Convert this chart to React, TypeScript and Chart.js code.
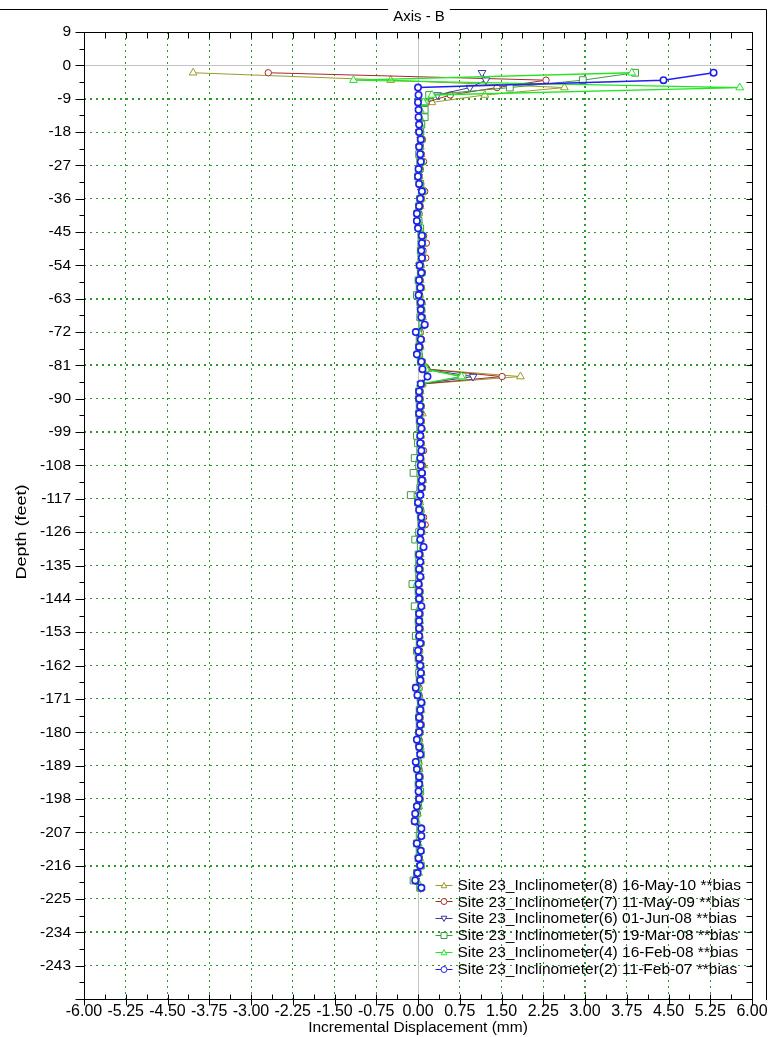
import { useEffect, useRef } from 'react';
import { Chart, registerables } from 'chart.js';
Chart.register(...registerables);

// Depth (feet) of each reading
const DEPTHS = [
  -2, -4, -6, -8, -10, -12, -14, -16, -18, -20,
  -22, -24, -26, -28, -30, -32, -34, -36, -38, -40,
  -42, -44, -46, -48, -50, -52, -54, -56, -58, -60,
  -62, -64, -66, -68, -70, -72, -74, -76, -78, -80,
  -82, -84, -86, -88, -90, -92, -94, -96, -98, -100,
  -102, -104, -106, -108, -110, -112, -114, -116, -118, -120,
  -122, -124, -126, -128, -130, -132, -134, -136, -138, -140,
  -142, -144, -146, -148, -150, -152, -154, -156, -158, -160,
  -162, -164, -166, -168, -170, -172, -174, -176, -178, -180,
  -182, -184, -186, -188, -190, -192, -194, -196, -198, -200,
  -202, -204, -206, -208, -210, -212, -214, -216, -218, -220,
  -222,
];

// Incremental displacement (mm) per series
const INC8_16MAY10 = [
  -4.04, -0.49, 2.63, 1.2, 0.25, 0.08, 0.05, 0.05, 0.04, 0.07,
  0.04, 0.05, 0.08, 0.03, 0.02, 0.04, 0.1, 0.06, 0.04, 0.01,
  0.01, 0.03, 0.09, 0.1, 0.08, 0.1, 0.05, 0.07, 0.04, 0.06,
  0.03, 0.07, 0.06, 0.08, 0.11, 0.03, 0.06, 0.04, 0.02, 0.08,
  0.18, 1.84, 0.08, 0.04, 0.03, 0.05, 0.08, 0.05, 0.07, 0.05,
  0.05, 0.08, 0.05, 0.1, 0.07, 0.08, 0.07, 0.04, 0.03, 0.05,
  0.08, 0.1, 0.06, 0.05, 0.09, 0.04, 0.05, 0.03, 0.05, 0.02,
  0.03, 0.04, 0.06, 0.03, 0.03, 0.04, 0.03, 0.05, 0.02, 0.03,
  0.05, 0.06, 0.05, 0.01, 0.02, 0.06, 0.05, 0.03, 0.05, 0.03,
  0.02, 0.04, 0.05, 0.01, 0.02, 0.03, 0.03, 0.03, 0.03, 0.01,
  -0.01, -0.03, 0.06, 0.05, 0.0, 0.05, 0.03, 0.05, 0.01, -0.02,
  0.06,
];
const INC7_11MAY09 = [
  -2.69, 2.3, 1.42, 0.58, 0.15, 0.06, 0.04, 0.05, 0.05, 0.08,
  0.04, 0.06, 0.1, 0.04, 0.02, 0.05, 0.12, 0.06, 0.04, 0.02,
  0.01, 0.03, 0.1, 0.15, 0.09, 0.14, 0.05, 0.08, 0.04, 0.06,
  0.03, 0.07, 0.07, 0.08, 0.12, 0.04, 0.06, 0.04, 0.02, 0.08,
  0.16, 1.51, 0.07, 0.04, 0.04, 0.06, 0.05, 0.06, 0.07, 0.05,
  0.06, 0.1, 0.05, 0.08, 0.08, 0.09, 0.08, 0.05, 0.03, 0.05,
  0.1, 0.13, 0.07, 0.05, 0.1, 0.04, 0.05, 0.04, 0.05, 0.02,
  0.04, 0.04, 0.06, 0.04, 0.03, 0.04, 0.03, 0.06, 0.03, 0.04,
  0.05, 0.06, 0.05, 0.02, 0.02, 0.07, 0.05, 0.04, 0.06, 0.04,
  0.02, 0.04, 0.05, 0.01, 0.02, 0.04, 0.03, 0.03, 0.04, 0.01,
  -0.01, -0.04, 0.05, 0.04, -0.03, 0.04, 0.02, 0.03, -0.02, -0.04,
  0.04,
];
const INC6_01JUN08 = [
  1.15, 1.22, 0.93, 0.35, 0.08, 0.03, 0.02, 0.03, 0.02, 0.05,
  0.03, 0.04, 0.05, 0.02, 0.01, 0.03, 0.06, 0.04, 0.02, -0.01,
  -0.01, 0.01, 0.07, 0.07, 0.06, 0.07, 0.03, 0.06, 0.02, 0.04,
  0.01, 0.05, 0.05, 0.06, 0.11, -0.02, 0.04, 0.02, -0.01, 0.06,
  0.12, 0.99, 0.05, 0.02, 0.02, 0.04, 0.02, 0.04, 0.05, 0.03,
  0.04, 0.06, 0.03, 0.05, 0.05, 0.07, 0.06, 0.02, 0.01, 0.03,
  0.06, 0.07, 0.05, 0.03, 0.08, 0.02, 0.04, 0.02, 0.04, -0.01,
  0.02, 0.02, 0.04, 0.02, 0.02, 0.02, 0.01, 0.04, 0.0, 0.02,
  0.04, 0.04, 0.04, -0.02, 0.0, 0.05, 0.04, 0.02, 0.04, 0.02,
  -0.01, 0.02, 0.04, -0.02, -0.01, 0.02, 0.02, 0.02, 0.02, -0.01,
  -0.04, -0.05, 0.05, 0.05, -0.01, 0.04, 0.01, 0.04, -0.01, -0.04,
  0.05,
];
const INC5_19MAR08 = [
  3.9, 2.96, 1.65, 0.2, 0.12, 0.12, 0.12, 0.06, 0.04, 0.05,
  0.03, 0.02, 0.04, 0.02, 0.0, 0.04, 0.08, 0.04, 0.02, -0.01,
  0.01, 0.04, 0.06, 0.06, 0.05, 0.06, 0.03, 0.05, 0.01, 0.03,
  -0.02, 0.04, 0.05, 0.04, 0.08, 0.0, 0.03, 0.02, 0.01, 0.05,
  0.12, 0.8, 0.06, 0.02, 0.02, 0.03, 0.02, 0.03, 0.04, -0.02,
  0.0, 0.04, -0.06, 0.02, -0.08, 0.05, 0.04, -0.13, 0.0, 0.03,
  0.05, 0.06, 0.02, -0.05, 0.05, 0.01, 0.02, 0.01, 0.02, -0.1,
  0.01, 0.02, -0.06, 0.02, 0.01, 0.02, -0.04, 0.03, -0.02, 0.01,
  0.03, 0.02, 0.03, -0.03, 0.0, 0.05, 0.03, 0.02, 0.03, 0.02,
  0.0, 0.03, 0.05, -0.01, 0.0, 0.02, 0.01, 0.04, 0.02, 0.0,
  -0.03, -0.05, 0.04, 0.03, -0.02, 0.03, 0.01, 0.05, -0.02, -0.08,
  0.04,
];
const INC4_16FEB08 = [
  3.84, -1.16, 5.78, 0.25, 0.1, 0.04, 0.03, 0.04, 0.03, 0.06,
  0.04, 0.05, 0.07, 0.03, 0.01, 0.03, 0.07, 0.05, 0.03, 0.0,
  0.0, 0.03, 0.08, 0.08, 0.07, 0.08, 0.04, 0.07, 0.03, 0.05,
  0.02, 0.06, 0.06, 0.07, 0.1, 0.01, 0.05, 0.03, 0.01, 0.07,
  0.14, 0.78, 0.04, 0.03, 0.03, 0.05, 0.03, 0.05, 0.06, 0.04,
  0.05, 0.07, 0.03, 0.06, 0.06, 0.08, 0.07, 0.02, 0.02, 0.04,
  0.07, 0.08, 0.06, 0.03, 0.09, 0.03, 0.04, 0.03, 0.04, -0.02,
  0.03, 0.03, 0.04, 0.03, 0.03, 0.03, 0.02, 0.05, 0.02, 0.03,
  0.05, 0.05, 0.04, 0.0, 0.01, 0.06, 0.05, 0.03, 0.05, 0.03,
  0.01, 0.04, 0.05, 0.0, 0.01, 0.03, 0.03, 0.03, 0.03, 0.01,
  -0.02, -0.04, 0.05, 0.05, 0.0, 0.04, 0.02, 0.04, 0.0, -0.03,
  0.05,
];
const INC2_11FEB07 = [
  5.31, 4.41, 0.0, 0.01, 0.0, 0.01, 0.01, 0.02, 0.02, 0.05,
  0.02, 0.04, 0.05, 0.01, 0.0, 0.02, 0.07, 0.04, 0.02, -0.02,
  -0.02, 0.0, 0.07, 0.07, 0.06, 0.07, 0.03, 0.06, 0.02, 0.04,
  0.01, 0.05, 0.05, 0.06, 0.12, -0.04, 0.05, 0.02, -0.02, 0.06,
  0.08, 0.17, 0.05, 0.02, 0.02, 0.04, 0.02, 0.04, 0.06, 0.04,
  0.04, 0.06, 0.04, 0.05, 0.07, 0.07, 0.06, 0.04, 0.0, 0.02,
  0.06, 0.07, 0.05, 0.04, 0.1, 0.02, 0.04, 0.02, 0.04, 0.01,
  0.02, 0.02, 0.06, 0.02, 0.02, 0.02, 0.02, 0.04, 0.0, 0.02,
  0.04, 0.05, 0.04, -0.04, -0.01, 0.06, 0.04, 0.02, 0.04, 0.02,
  -0.02, 0.02, 0.04, -0.04, -0.02, 0.02, 0.02, 0.01, 0.02, -0.02,
  -0.05, -0.06, 0.06, 0.06, -0.02, 0.05, 0.01, 0.04, -0.01, -0.05,
  0.06,
];

const SERIES_LABELS = [
  'Site 23_Inclinometer(8) 16-May-10 **bias',
  'Site 23_Inclinometer(7) 11-May-09 **bias',
  'Site 23_Inclinometer(6) 01-Jun-08 **bias',
  'Site 23_Inclinometer(5) 19-Mar-08 **bias',
  'Site 23_Inclinometer(4) 16-Feb-08 **bias',
  'Site 23_Inclinometer(2) 11-Feb-07 **bias',
];
const SERIES_VALUES = [INC8_16MAY10, INC7_11MAY09, INC6_01JUN08, INC5_19MAR08, INC4_16FEB08, INC2_11FEB07];
const SERIES_COLORS = ['#9c9a2c', '#a52a2a', '#3a3a9c', '#3c9c3c', '#22e622', '#1f1ff0'];
const SERIES_SHAPES = ['tri', 'circle', 'tridown', 'square', 'tri', 'circle'];
const SERIES_WIDTH = [1, 1, 1, 1, 1.3, 1.5];

const X_MIN = -6;
const X_MAX = 6;
const X_STEP = 0.75;
const Y_MIN = -252;
const Y_MAX = 9;
const Y_STEP = 9;
const HEAVY_Y = [-9, -63, -81, -99, -216, -234];
const HEAVY_X = [3];

const GRID_GREEN = '#2a9a2a';
const FONT = '"Liberation Sans", Arial, sans-serif';

function drawMarker(ctx: CanvasRenderingContext2D, shape: string, x: number, y: number, r: number, color: string) {
  ctx.save();
  ctx.strokeStyle = color;
  ctx.fillStyle = '#ffffff';
  ctx.lineWidth = 1;
  ctx.beginPath();
  if (shape === 'circle') {
    ctx.arc(x, y, r, 0, Math.PI * 2);
  } else if (shape === 'square') {
    ctx.rect(x - r, y - r, 2 * r, 2 * r);
  } else if (shape === 'tri') {
    ctx.moveTo(x, y - r);
    ctx.lineTo(x + r * 0.95, y + r * 0.75);
    ctx.lineTo(x - r * 0.95, y + r * 0.75);
    ctx.closePath();
  } else {
    ctx.moveTo(x, y + r);
    ctx.lineTo(x + r * 0.95, y - r * 0.75);
    ctx.lineTo(x - r * 0.95, y - r * 0.75);
    ctx.closePath();
  }
  ctx.fill();
  ctx.stroke();
  ctx.restore();
}

const decorPlugin = {
  id: 'decor',
  beforeDatasetsDraw(chart: any) {
    const { ctx, chartArea: a, scales } = chart;
    const x0 = Math.round(scales.x.getPixelForValue(0)) + 0.5;
    const y0 = Math.round(scales.y.getPixelForValue(0)) + 0.5;
    ctx.save();
    ctx.strokeStyle = '#c4c4c4';
    ctx.lineWidth = 1;
    ctx.beginPath();
    ctx.moveTo(x0, a.top);
    ctx.lineTo(x0, a.bottom);
    ctx.moveTo(a.left, y0);
    ctx.lineTo(a.right, y0);
    ctx.stroke();
    ctx.restore();
  },
  afterDraw(chart: any) {
    const { ctx, chartArea: a, scales } = chart;
    const L = Math.round(a.left) + 0.5;
    const R = Math.round(a.right) + 0.5;
    const T = Math.round(a.top) + 0.5;
    const B = Math.round(a.bottom) + 0.5;
    ctx.save();
    ctx.strokeStyle = '#000';
    ctx.lineWidth = 1;
    ctx.beginPath();
    ctx.rect(L, T, R - L, B - T);
    ctx.stroke();

    // ticks
    ctx.beginPath();
    const nx = Math.round((X_MAX - X_MIN) / (X_STEP / 2));
    for (let i = 0; i <= nx; i++) {
      const v = X_MIN + (i * X_STEP) / 2;
      const px = Math.round(scales.x.getPixelForValue(v)) + 0.5;
      const major = i % 2 === 0;
      ctx.moveTo(px, B - 5);
      ctx.lineTo(px, major ? B + 6 : B);
      ctx.moveTo(px, T);
      ctx.lineTo(px, T + 6);
    }
    const ny = Math.round((Y_MAX - Y_MIN) / (Y_STEP / 2));
    for (let i = 0; i <= ny; i++) {
      const v = Y_MAX - (i * Y_STEP) / 2;
      const py = Math.round(scales.y.getPixelForValue(v)) + 0.5;
      const major = i % 2 === 0;
      ctx.moveTo(L - (major ? 9 : 5), py);
      ctx.lineTo(L, py);
      ctx.moveTo(R - 6, py);
      ctx.lineTo(R, py);
    }
    ctx.stroke();

    // title with frame line
    ctx.font = `15px ${FONT}`;
    ctx.fillStyle = '#000';
    ctx.textAlign = 'center';
    ctx.textBaseline = 'alphabetic';
    const cx = 419;
    ctx.fillText('Axis - B', cx, 21);
    const tw = ctx.measureText('Axis - B').width;
    ctx.beginPath();
    ctx.moveTo(0, 9.5);
    ctx.lineTo(cx - tw / 2 - 5, 9.5);
    ctx.moveTo(cx + tw / 2 + 5, 9.5);
    ctx.lineTo(766.5, 9.5);
    ctx.lineTo(766.5, 1000);
    ctx.stroke();

    // y axis title (stretched along its length like the reference)
    ctx.save();
    ctx.translate(22, 532);
    ctx.rotate(-Math.PI / 2);
    ctx.scale(1.2, 1);
    ctx.textAlign = 'center';
    ctx.textBaseline = 'middle';
    ctx.fillText('Depth (feet)', 0, 0);
    ctx.restore();

    // legend
    const lx = R - 317;
    const ly0 = B - 115;
    const rowH = 16.8;
    ctx.font = `15.5px ${FONT}`;
    ctx.textAlign = 'left';
    ctx.textBaseline = 'middle';
    for (let i = 0; i < SERIES_LABELS.length; i++) {
      const y = ly0 + i * rowH;
      ctx.strokeStyle = SERIES_COLORS[i];
      ctx.beginPath();
      ctx.moveTo(lx, Math.round(y) + 0.5);
      ctx.lineTo(lx + 17, Math.round(y) + 0.5);
      ctx.stroke();
      drawMarker(ctx, SERIES_SHAPES[i], lx + 8.5, Math.round(y) + 0.5, 3, SERIES_COLORS[i]);
      ctx.fillStyle = '#000';
      ctx.fillText(SERIES_LABELS[i], lx + 22, y + 1);
    }
    ctx.restore();
  },
};

const CHART_STYLE: Record<string, any> = {
  tri: { pointStyle: 'triangle', pointRadius: 4.5, pointRotation: 0 },
  tridown: { pointStyle: 'triangle', pointRadius: 4.5, pointRotation: 180 },
  circle: { pointStyle: 'circle', pointRadius: 3.2, pointRotation: 0 },
  square: { pointStyle: 'rect', pointRadius: 4.8, pointRotation: 0 },
};

export default function App() {
  const ref = useRef<HTMLCanvasElement | null>(null);
  useEffect(() => {
    if (!ref.current) return;
    Chart.defaults.font.family = FONT;
    Chart.defaults.font.size = 16;
    Chart.defaults.color = '#000';
    // draw order: last in array drawn first; blue on top
    const order = [5, 4, 3, 2, 1, 0];
    const datasets = order.map((i) => ({
      label: SERIES_LABELS[i],
      data: DEPTHS.map((d, k) => ({ x: SERIES_VALUES[i][k], y: d })),
      showLine: true,
      borderColor: SERIES_COLORS[i],
      borderWidth: SERIES_WIDTH[i],
      pointBorderColor: SERIES_COLORS[i],
      pointBackgroundColor: '#ffffff',
      pointBorderWidth: SERIES_WIDTH[i] > 1.4 ? 1.6 : 1,
      ...CHART_STYLE[SERIES_SHAPES[i]],
    }));
    const chart = new Chart(ref.current, {
      type: 'scatter',
      data: { datasets },
      plugins: [decorPlugin],
      options: {
        animation: false,
        responsive: false,
        devicePixelRatio: 1,
        layout: { padding: { top: 32, right: 19, bottom: 0, left: 0 } },
        plugins: { legend: { display: false }, tooltip: { enabled: false } },
        scales: {
          x: {
            type: 'linear',
            min: X_MIN,
            max: X_MAX,
            afterFit: (s: any) => { s.height = 38; },
            ticks: {
              stepSize: X_STEP,
              autoSkip: false,
              maxRotation: 0,
              padding: 3,
              callback: (v: any) => Number(v).toFixed(2),
              font: { size: 16 },
            },
            grid: {
              drawTicks: false,
              color: (c: any) => (c.tick && Math.abs(c.tick.value) < 1e-9 ? 'rgba(0,0,0,0)' : GRID_GREEN),
              lineWidth: (c: any) => (c.tick && HEAVY_X.includes(c.tick.value) ? 2 : 1),
            },
            border: { display: false, dash: [2, 4] },
            title: { display: true, text: 'Incremental Displacement (mm)', padding: { top: 0, bottom: 0 }, font: { size: 15.5 } },
          },
          y: {
            type: 'linear',
            min: Y_MIN,
            max: Y_MAX,
            afterFit: (s: any) => { s.width = 84; },
            ticks: {
              stepSize: Y_STEP,
              autoSkip: false,
              padding: 13,
              callback: (v: any) => (v === Y_MIN ? '' : String(v)),
              font: { size: 15.5 },
            },
            grid: {
              drawTicks: false,
              color: (c: any) => (c.tick && Math.abs(c.tick.value) < 1e-9 ? 'rgba(0,0,0,0)' : GRID_GREEN),
              lineWidth: (c: any) => (c.tick && HEAVY_Y.includes(c.tick.value) ? 2 : 1),
            },
            border: { display: false, dash: [2, 4] },
            title: { display: false },
          },
        },
      },
    } as any);
    return () => chart.destroy();
  }, []);
  return (
    <div style={{ position: 'absolute', left: 0, top: 0, width: 771, height: 1037, background: '#fff' }}>
      <canvas ref={ref} width={771} height={1037} style={{ display: 'block' }} />
    </div>
  );
}
